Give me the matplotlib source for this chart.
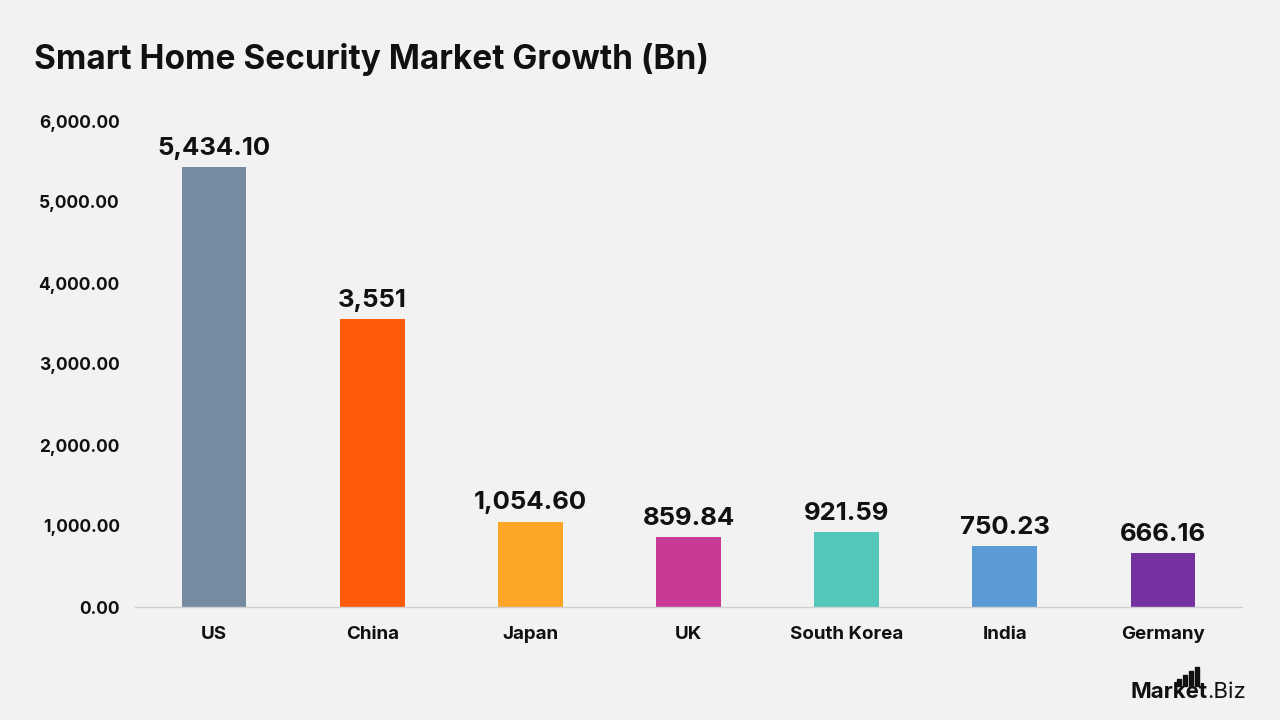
import matplotlib.pyplot as plt
from matplotlib.patches import Rectangle

# -----------------------------
# Data
# -----------------------------
countries = ["US", "China", "Japan", "UK", "South Korea", "India", "Germany"]
values = [5434.10, 3551, 1054.60, 859.84, 921.59, 750.23, 666.16]
value_labels = ["5,434.10", "3,551", "1,054.60", "859.84", "921.59", "750.23", "666.16"]
colors = ["#778BA0", "#FF5A0A", "#FCA527", "#C83A96", "#52C7BA", "#5B9BD5", "#7531A0"]
yticks = [0, 1000, 2000, 3000, 4000, 5000, 6000]

BG = "#F2F2F2"
plt.rcParams["font.family"] = ["Inter", "DejaVu Sans"]


def main() -> None:
    fig = plt.figure(figsize=(12.8, 7.2), dpi=100, facecolor=BG)
    ax = fig.add_axes([135 / 1280, 1 - 607 / 720, 1107 / 1280, 486 / 720])
    ax.set_facecolor(BG)

    x = range(len(countries))
    ax.bar(x, values, width=0.41, color=colors, zorder=2)

    for xi, v, lab in zip(x, values, value_labels):
        ax.text(xi, v + 90, lab, ha="center", va="bottom",
                fontsize=18.5, fontweight="bold", color="#111111")

    ax.set_xlim(-0.5, len(countries) - 0.5)
    ax.set_ylim(0, 6000)
    ax.set_yticks(yticks)
    ax.set_yticklabels([f"{t:,.2f}" for t in yticks],
                       fontsize=12.5, fontweight="bold", color="#111111")
    ax.set_xticks(list(x))
    ax.set_xticklabels(countries, fontsize=13.5, fontweight="bold", color="#111111")
    ax.tick_params(axis="both", length=0)
    ax.tick_params(axis="y", pad=11)
    ax.tick_params(axis="x", pad=14)

    for side in ["top", "right", "left"]:
        ax.spines[side].set_visible(False)
    ax.spines["bottom"].set_color("#D0D0D0")
    ax.spines["bottom"].set_linewidth(1)

    fig.text(34 / 1280, 1 - 59 / 720, "Smart Home Security Market Growth (Bn)",
             fontsize=24, fontweight="bold", color="#111111", va="center", ha="left")

    # Logo
    fig.text(1131 / 1280, 1 - 692 / 720, "Market", fontsize=16, fontweight="bold",
             color="#111111", va="center", ha="left")
    fig.text(1207 / 1280, 1 - 692 / 720, ".Biz", fontsize=16,
             color="#111111", va="center", ha="left")
    for i, h in enumerate([7, 11, 15, 19]):
        fig.patches.append(Rectangle(((1177 + i * 6) / 1280, 1 - 686 / 720), 3.5 / 1280, h / 720,
                                     transform=fig.transFigure, color="#111111"))

    fig.savefig("out.png", dpi=100, facecolor=BG)
    plt.close(fig)


if __name__ == "__main__":
    main()
